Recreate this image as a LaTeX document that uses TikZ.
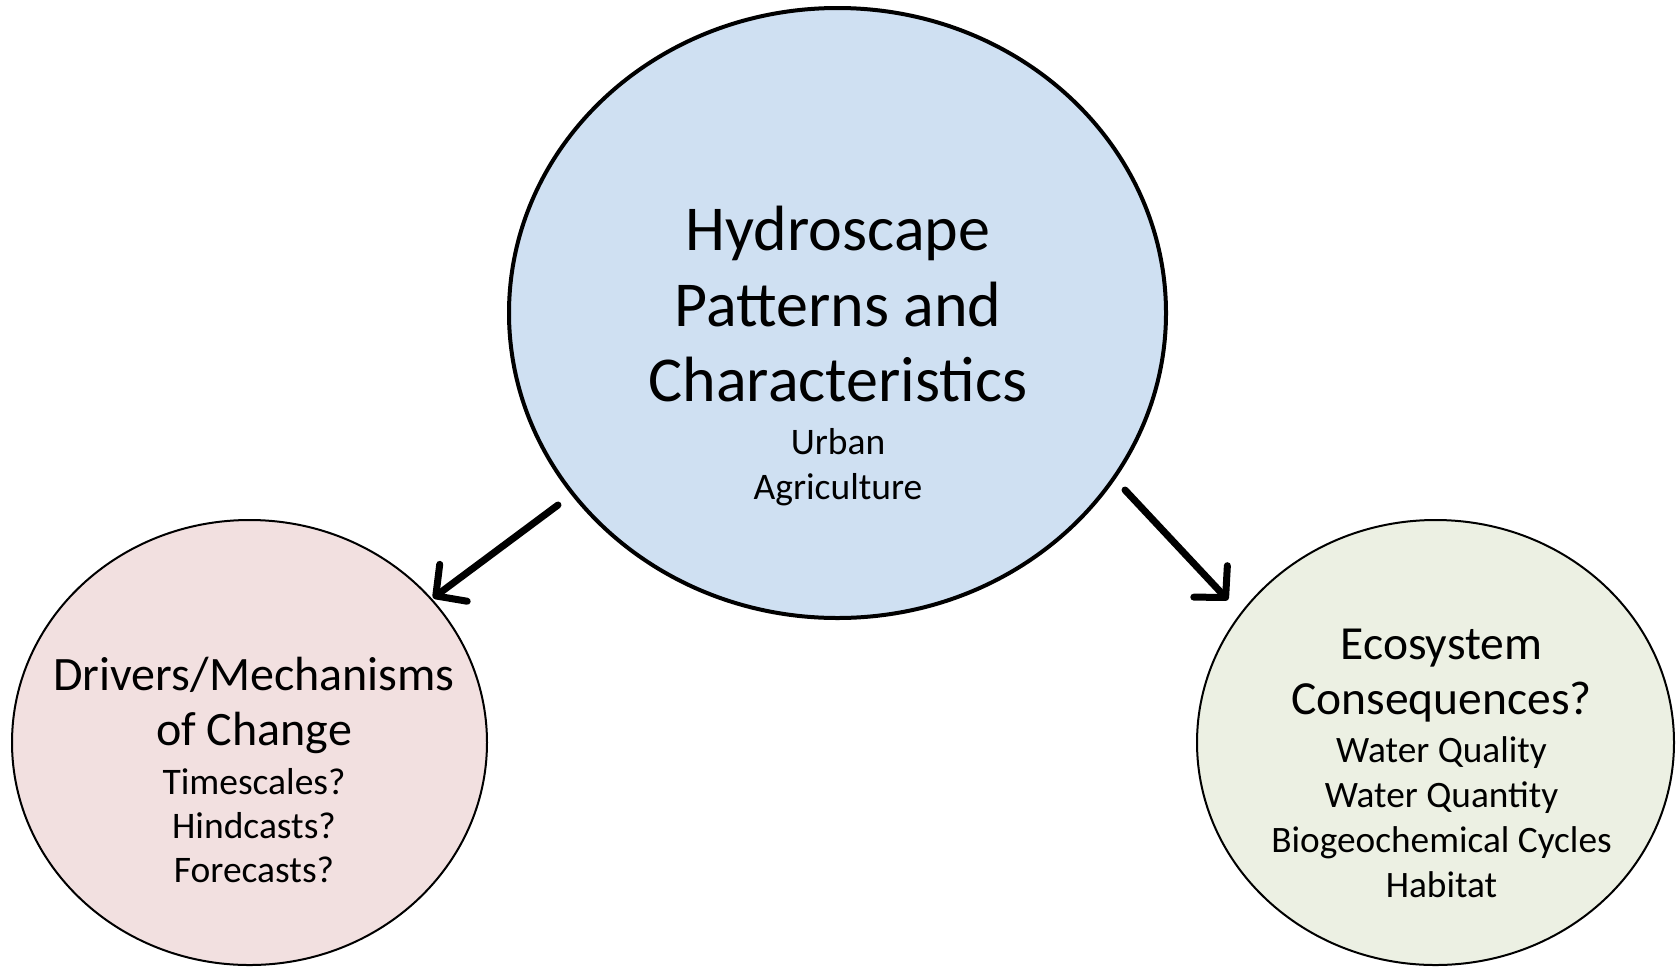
\documentclass[tikz,border=0pt]{standalone}
\usepackage{fontspec}
\setmainfont{Carlito}
\usetikzlibrary{shapes.geometric,arrows.meta}
\definecolor{bluefill}{RGB}{207,224,242}
\definecolor{pinkfill}{RGB}{242,224,224}
\definecolor{greenfill}{RGB}{236,240,227}
\tikzset{
  bubble/.style={ellipse, draw=black, inner sep=0pt, outer sep=0pt},
  txt/.style={align=center, anchor=base, inner sep=0pt},
  arrowline/.style={line width=7pt, line cap=round, -{Straight Barb[length=22pt, width=46pt, round]}}
}
\begin{document}
\begin{tikzpicture}[x=1pt, y=-1pt]
\useasboundingbox (0,0) rectangle (1677,967);
\node[bubble, fill=bluefill, line width=4pt, minimum width=657pt, minimum height=610pt] (hydro) at (837.5,313) {};
\node[bubble, fill=pinkfill, line width=2pt, minimum width=475pt, minimum height=445pt] (drivers) at (249.5,742.5) {};
\node[bubble, fill=greenfill, line width=2pt, minimum width=477pt, minimum height=445pt] (eco) at (1435.5,742.5) {};

\node[txt, font=\fontsize{64}{75.5}\selectfont] (hydrotitle) at (838,401.7) {Hydroscape\\Patterns and\\Characteristics};
\node[txt, font=\fontsize{37.5}{45}\selectfont] (hydrosub) at (838,499.5) {Urban\\Agriculture};

\node[txt, font=\fontsize{48}{55}\selectfont] (drivtitle) at (254,745) {Drivers/Mechanisms\\of Change};
\node[txt, font=\fontsize{37.5}{43.8}\selectfont] (drivsub) at (254,882.5) {Timescales?\\Hindcasts?\\Forecasts?};

\node[txt, font=\fontsize{47.5}{55}\selectfont] (ecotitle) at (1441.5,714) {Ecosystem\\Consequences?};
\node[txt, font=\fontsize{37.3}{45}\selectfont] (ecosub) at (1441.5,897.5) {Water Quality\\Water Quantity\\Biogeochemical Cycles\\Habitat};

\coordinate (a1s) at (558,505);
\coordinate (a1e) at (433,598);
\coordinate (a2s) at (1125,490);
\coordinate (a2e) at (1228,600);
\draw[arrowline] (a1s) -- (a1e);
\draw[arrowline] (a2s) -- (a2e);
\end{tikzpicture}
\end{document}
